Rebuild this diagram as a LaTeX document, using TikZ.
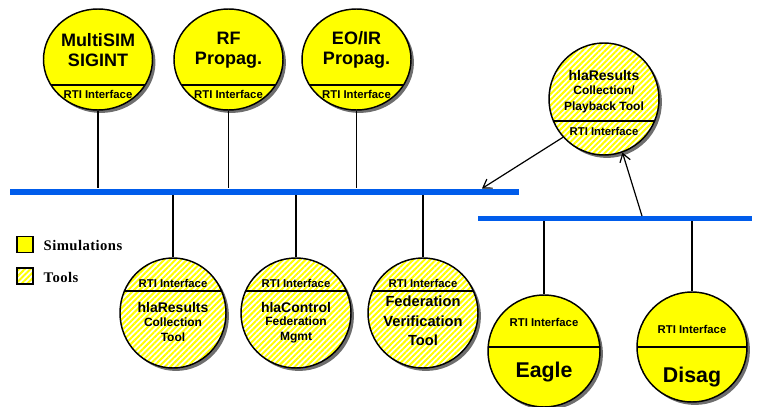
\documentclass[tikz,border=0pt]{standalone}
\usepackage{fontspec}
\setmainfont{Liberation Sans}
\newfontfamily\legendfont{Liberation Serif}[LetterSpace=3]
\usetikzlibrary{shapes.geometric,positioning,calc,shadows,patterns.meta,arrows.meta}
\definecolor{simyellow}{RGB}{255,255,0}
\definecolor{busblue}{RGB}{0,92,235}
\definecolor{shadowgray}{RGB}{110,110,110}

\begin{document}
\begin{tikzpicture}[x=0.75pt, y=-0.75pt,
  fed/.style={ellipse, draw=black, line width=1.1pt, inner sep=0pt,
    minimum width=81pt, minimum height=81pt,
    drop shadow={shadow xshift=2.2pt, shadow yshift=-2.2pt, fill=shadowgray, opacity=1}},
  sim/.style={fed, fill=simyellow},
  tool/.style={fed, preaction={fill=white},
    pattern={Lines[angle=45, distance=3pt, line width=1.5pt]}, pattern color=simyellow},
  divider/.style={path picture={
    \draw[line width=1pt] ($(path picture bounding box.west)+(0,#1)$)
      -- ($(path picture bounding box.east)+(0,#1)$);}},
  title/.style={font=\bfseries\fontsize{13.5}{15}\selectfont, align=center},
  toolname/.style={font=\bfseries\fontsize{10.5}{12}\selectfont, align=center},
  sub/.style={font=\bfseries\fontsize{9}{11.25}\selectfont, align=center},
  iface/.style={font=\bfseries\fontsize{8.5}{9}\selectfont},
  big/.style={font=\bfseries\fontsize{16}{18}\selectfont},
  bus/.style={rectangle, inner sep=0pt, fill=busblue},
  stub/.style={line width=0.9pt},
  link/.style={line width=0.9pt, -{Straight Barb[length=6pt, width=8pt]}},
  legbox/.style={rectangle, draw=black, line width=0.9pt, minimum size=12pt, inner sep=0pt},
  legtext/.style={font=\legendfont\bfseries\fontsize{11}{12}\selectfont, anchor=west}
]
\useasboundingbox (0,0) rectangle (757,407);

% the two buses
\node[bus, minimum width=381.75pt, minimum height=4.5pt] (bus1) at (264.5,191.5) {};
\node[bus, minimum width=205.5pt, minimum height=3.75pt] (bus2) at (615,218) {};

% simulations above the main bus
\node[sim, minimum width=81.75pt, minimum height=75.75pt, divider=25.5] (ms) at (98,59.5) {};
\node[title] at ($(ms)+(0,-9.5)$) {MultiSIM\\SIGINT};
\node[iface] at ($(ms)+(0,34.5)$) {RTI Interface};

\node[sim, minimum width=81.75pt, minimum height=75.75pt, divider=25.5] (rf) at (228.5,59.5) {};
\node[title] at ($(rf)+(0,-9.5)$) {RF\\Propag.};
\node[iface] at ($(rf)+(0,34.5)$) {RTI Interface};

\node[sim, minimum width=81.75pt, minimum height=75.75pt, divider=25.5] (eo) at (356.5,59.5) {};
\node[title] at ($(eo)+(0,-9.5)$) {EO/IR\\Propag.};
\node[iface] at ($(eo)+(0,34.5)$) {RTI Interface};

% tools below the main bus
\node[tool, minimum width=79.5pt, minimum height=82.5pt, divider=-22] (hr) at (173,313) {};
\node[iface] at ($(hr)+(0,-30)$) {RTI Interface};
\node[toolname] at ($(hr)+(0,-6)$) {hlaResults};
\node[sub] at ($(hr)+(0,16.5)$) {Collection\\Tool};

\node[tool, minimum width=82.5pt, minimum height=82.5pt, divider=-22] (hc) at (296,313) {};
\node[iface] at ($(hc)+(0,-30)$) {RTI Interface};
\node[toolname] at ($(hc)+(0,-6)$) {hlaControl};
\node[sub] at ($(hc)+(0,16.5)$) {Federation\\Mgmt};

\node[tool, minimum width=82.5pt, minimum height=82.5pt, divider=-22] (fv) at (423,313) {};
\node[iface] at ($(fv)+(0,-30)$) {RTI Interface};
\node[toolname, font=\bfseries\fontsize{11}{14.6}\selectfont] at ($(fv)+(0,8)$) {Federation\\Verification\\Tool};

% playback tool between the buses
\node[tool, minimum width=82.5pt, minimum height=84pt, divider=22] (pb) at (604,99) {};
\node[toolname] at ($(pb)+(0,-24)$) {hlaResults};
\node[sub, font=\bfseries\fontsize{9}{12}\selectfont] at ($(pb)+(0,0)$) {Collection/\\Playback Tool};
\node[iface] at ($(pb)+(0,32)$) {RTI Interface};

% simulations below the second bus
\node[sim, minimum size=84pt, divider=-4] (eg) at (544,351) {};
\node[iface] at ($(eg)+(0,-29)$) {RTI Interface};
\node[big] at ($(eg)+(0,21)$) {Eagle};

\node[sim, minimum width=82.5pt, minimum height=82.5pt, divider=0] (dg) at (692,347) {};
\node[iface] at ($(dg)+(0,-18)$) {RTI Interface};
\node[big] at ($(dg)+(0,30)$) {Disag};

% stubs to the buses
\draw[stub] (ms.south) -- (ms.south |- bus1.north);
\draw[stub] (rf.south) -- (rf.south |- bus1.north);
\draw[stub] (eo.south) -- (eo.south |- bus1.north);
\draw[stub] (hr.north) -- (hr.north |- bus1.south);
\draw[stub] (hc.north) -- (hc.north |- bus1.south);
\draw[stub] (fv.north) -- (fv.north |- bus1.south);
\draw[stub] (eg.north) -- (eg.north |- bus2.south);
\draw[stub] (dg.north) -- (dg.north |- bus2.south);

% playback links
\coordinate (b1in) at (482,188.5);
\coordinate (b2out) at (642,216);
\draw[link] (pb.223) -- (b1in);
\draw[link] (b2out) -- (pb.-71);

% legend
\node[legbox, fill=simyellow] (lsim) at (25,244.5) {};
\node[legtext] (tsim) at (39,245) {Simulations};
\node[legbox, preaction={fill=white}, pattern={Lines[angle=45, distance=3pt, line width=1.5pt]},
  pattern color=simyellow] (ltool) at (25,276) {};
\node[legtext] (ttool) at (39,277) {Tools};

\end{tikzpicture}
\end{document}
